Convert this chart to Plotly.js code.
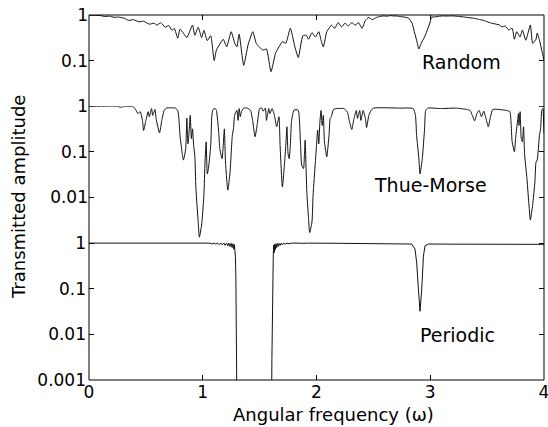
<!DOCTYPE html>
<html>
<head>
<meta charset="utf-8">
<script src="https://cdn.plot.ly/plotly-3.0.1.min.js"></script>
<style>html,body{margin:0;padding:0;background:#fff;}#chart{width:548px;height:427px;}</style>
</head>
<body>
<div id="chart"></div>
<script>
// ---- data ----
const xTickVals = [0, 1, 2, 3, 4];
const xTickText = ['0', '1', '2', '3', '4'];

const randomX = [0.00,0.05,0.10,0.14,0.18,0.22,0.26,0.31,0.35,0.39,0.44,0.48,0.53,0.57,0.60,0.63,0.67,0.70,0.73,0.75,0.78,0.80,0.83,0.86,0.91,0.93,0.96,0.99,1.01,1.04,1.07,1.10,1.12,1.15,1.18,1.21,1.25,1.28,1.30,1.32,1.36,1.40,1.44,1.47,1.50,1.53,1.56,1.60,1.64,1.67,1.70,1.73,1.77,1.81,1.84,1.88,1.91,1.93,1.96,1.99,2.02,2.04,2.06,2.09,2.11,2.13,2.16,2.19,2.22,2.25,2.28,2.31,2.34,2.37,2.40,2.43,2.46,2.49,2.53,2.56,2.59,2.62,2.65,2.68,2.70,2.73,2.76,2.81,2.84,2.86,2.88,2.90,2.92,2.95,2.98,3.00,3.01,3.04,3.08,3.11,3.15,3.20,3.25,3.29,3.33,3.38,3.41,3.44,3.47,3.50,3.54,3.58,3.61,3.63,3.66,3.69,3.72,3.74,3.76,3.79,3.81,3.84,3.88,3.90,3.93,3.94,3.96,3.98,4.00];
const randomY = [0.99,0.98,0.97,0.93,0.94,0.89,0.90,0.85,0.76,0.79,0.71,0.73,0.63,0.66,0.60,0.68,0.54,0.59,0.46,0.51,0.31,0.49,0.40,0.32,0.60,0.36,0.54,0.32,0.46,0.275,0.35,0.10,0.17,0.23,0.295,0.20,0.43,0.245,0.20,0.38,0.079,0.23,0.43,0.24,0.195,0.17,0.18,0.0575,0.145,0.20,0.26,0.24,0.51,0.20,0.117,0.35,0.36,0.295,0.41,0.33,0.43,0.28,0.20,0.43,0.51,0.60,0.51,0.68,0.55,0.66,0.575,0.68,0.60,0.68,0.51,0.76,0.89,0.79,0.89,0.93,0.955,0.94,0.97,0.95,0.955,0.93,0.91,0.85,0.66,0.43,0.28,0.18,0.24,0.33,0.51,0.71,0.89,0.91,0.94,0.955,0.95,0.955,0.93,0.91,0.88,0.85,0.82,0.79,0.76,0.71,0.66,0.63,0.60,0.55,0.575,0.47,0.51,0.295,0.43,0.33,0.47,0.28,0.60,0.24,0.295,0.40,0.28,0.17,0.102];

const thueX = [0.00,0.10,0.20,0.25,0.28,0.31,0.39,0.41,0.43,0.45,0.47,0.48,0.50,0.52,0.53,0.55,0.56,0.58,0.59,0.62,0.64,0.66,0.68,0.76,0.78,0.79,0.80,0.82,0.83,0.85,0.86,0.87,0.88,0.89,0.90,0.91,0.92,0.93,0.94,0.96,0.97,0.99,1.01,1.02,1.03,1.04,1.05,1.07,1.08,1.09,1.11,1.12,1.14,1.15,1.17,1.18,1.19,1.20,1.22,1.24,1.26,1.27,1.28,1.30,1.31,1.32,1.33,1.34,1.36,1.39,1.42,1.44,1.46,1.48,1.50,1.52,1.53,1.55,1.56,1.58,1.59,1.61,1.63,1.65,1.67,1.68,1.70,1.72,1.73,1.74,1.75,1.76,1.77,1.78,1.80,1.82,1.84,1.86,1.87,1.886,1.895,1.90,1.915,1.93,1.94,1.96,1.97,1.99,2.00,2.01,2.02,2.03,2.04,2.05,2.06,2.07,2.09,2.11,2.12,2.13,2.15,2.18,2.24,2.27,2.29,2.31,2.33,2.35,2.36,2.38,2.39,2.41,2.43,2.44,2.46,2.48,2.50,2.73,2.85,2.87,2.88,2.90,2.91,2.93,2.95,2.96,2.98,3.09,3.23,3.32,3.35,3.37,3.39,3.41,3.43,3.45,3.47,3.49,3.51,3.53,3.55,3.67,3.70,3.71,3.72,3.74,3.75,3.77,3.775,3.78,3.79,3.80,3.81,3.82,3.83,3.85,3.87,3.88,3.90,3.92,3.93,3.94,3.96,3.97,3.98,3.99,4.00];
const thueY = [1.0,0.99,1.0,0.99,0.95,0.99,0.97,0.85,0.69,0.76,0.49,0.295,0.49,0.76,0.59,0.89,0.63,0.85,0.54,0.26,0.49,0.81,0.91,0.91,0.81,0.54,0.23,0.091,0.066,0.117,0.55,0.15,0.275,0.63,0.195,0.32,0.138,0.085,0.0155,0.0029,0.00135,0.0025,0.0112,0.060,0.166,0.033,0.043,0.138,0.63,0.85,0.89,0.81,0.275,0.117,0.071,0.138,0.32,0.060,0.0145,0.036,0.23,0.32,0.63,0.81,0.49,0.89,0.59,0.76,0.91,0.91,0.81,0.46,0.215,0.42,0.89,0.91,0.78,0.91,0.49,0.89,0.69,0.89,0.63,0.355,0.59,0.138,0.017,0.060,0.138,0.355,0.091,0.071,0.138,0.46,0.81,0.85,0.81,0.138,0.051,0.043,0.10,0.18,0.013,0.0035,0.0017,0.0029,0.0112,0.060,0.138,0.30,0.15,0.46,0.81,0.38,0.63,0.166,0.078,0.23,0.54,0.59,0.85,0.89,0.89,0.76,0.46,0.31,0.54,0.81,0.54,0.81,0.49,0.81,0.54,0.34,0.63,0.81,0.91,0.91,0.89,0.63,0.23,0.071,0.033,0.071,0.32,0.81,0.91,0.89,0.91,0.85,0.81,0.63,0.48,0.69,0.81,0.59,0.78,0.54,0.355,0.59,0.85,0.81,0.76,0.46,0.166,0.10,0.195,0.54,0.69,0.38,0.76,0.195,0.166,0.355,0.085,0.026,0.0058,0.0032,0.0068,0.022,0.060,0.066,0.23,0.32,0.80,0.89,0.25];

const periodicX = [0.00,0.40,0.80,0.85,0.87,0.90,0.92,0.95,0.97,1.00,1.02,1.04,1.06,1.08,1.10,1.115,1.13,1.145,1.16,1.17,1.185,1.195,1.21,1.22,1.23,1.24,1.25,1.258,1.265,1.272,1.278,1.283,1.287,1.291,1.295,1.298,1.300,1.450,1.605,1.608,1.611,1.614,1.616,1.620,1.624,1.628,1.633,1.638,1.644,1.650,1.657,1.664,1.672,1.680,1.690,1.700,1.710,1.725,1.740,1.760,1.780,1.810,1.840,1.880,1.920,2.20,2.50,2.80,2.837,2.866,2.881,2.896,2.910,2.925,2.940,2.954,2.984,3.20,3.50,3.80,4.00];
const periodicY = [1.0,1.0,1.0,0.995,1.0,0.99,1.0,0.985,1.0,0.98,1.0,0.97,1.0,0.96,1.0,0.95,1.0,0.93,1.0,0.92,1.0,0.90,1.0,0.87,1.0,0.84,0.99,0.80,0.97,0.74,0.93,0.66,0.5,0.2,0.03,0.003,0.0003,0.00000001,0.0003,0.003,0.03,0.16,0.3,0.55,0.9,0.62,0.95,0.72,0.97,0.8,0.98,0.85,0.99,0.89,1.0,0.92,1.0,0.95,1.0,0.97,1.0,0.985,1.0,0.99,1.0,0.99,0.99,0.98,0.955,0.74,0.37,0.098,0.032,0.098,0.52,0.87,0.955,0.95,0.95,0.94,0.94];

const panelLabels = ['Random', 'Thue-Morse', 'Periodic'];
const yTitle = 'Transmitted amplitude';
const xTitle = 'Angular frequency (\u03c9)';

// ---- layout helpers ----
const FONT = 'DejaVu Sans, Liberation Sans, Arial, sans-serif';
const L = 89, R = 4, T = 15, B = 47, W = 548, H = 427;
const pw = W - L - R, ph = H - T - B;
const px2x = p => (p - L) / pw;
const py2y = p => (H - B - p) / ph;
const pad = 0.05; // decades of headroom so curves sitting at 1 are not clipped
const dec = 1 / 8;

const lineStyle = {color: '#111', width: 1};
const smoothStyle = {color: '#111', width: 1, shape: 'spline', smoothing: 0.5};
const traces = [
  {x: randomX, y: randomY, xaxis: 'x2', yaxis: 'y', mode: 'lines', line: smoothStyle, hoverinfo: 'skip'},
  {x: thueX, y: thueY, xaxis: 'x', yaxis: 'y2', mode: 'lines', line: smoothStyle, hoverinfo: 'skip'},
  {x: periodicX, y: periodicY, xaxis: 'x', yaxis: 'y3', mode: 'lines', line: lineStyle, hoverinfo: 'skip'}
];

const tickFont = {family: FONT, size: 17, color: '#000'};
const yBase = {
  type: 'log', ticks: 'inside', ticklen: 5, tickcolor: '#000', tickwidth: 1,
  mirror: 'ticks', showgrid: false, zeroline: false, showline: false,
  tickfont: tickFont, fixedrange: true
};

const layout = {
  width: W, height: H,
  margin: {l: L, r: R, t: T, b: B, pad: 0},
  paper_bgcolor: '#fff', plot_bgcolor: '#fff',
  showlegend: false,
  font: {family: FONT, color: '#000'},
  xaxis: {
    domain: [0, 1], anchor: 'y3', range: [0, 4],
    tickvals: xTickVals, ticktext: xTickText,
    ticks: 'inside', ticklen: 5, tickcolor: '#000',
    showgrid: false, zeroline: false, showline: false,
    tickfont: tickFont, ticklabeloverflow: 'allow', fixedrange: true
  },
  xaxis2: {
    domain: [0, 1], anchor: 'y', side: 'top', matches: 'x', range: [0, 4],
    tickvals: xTickVals, ticks: 'inside', ticklen: 5, tickcolor: '#000',
    showticklabels: false, showgrid: false, zeroline: false, showline: false, fixedrange: true
  },
  yaxis: Object.assign({}, yBase, {
    domain: [6 * dec, 1], anchor: 'x2', range: [-2, 0],
    tickvals: [1, 0.1], ticktext: ['1', '0.1']
  }),
  yaxis2: Object.assign({}, yBase, {
    domain: [3 * dec, 6 * dec + pad * dec], anchor: 'x', range: [-3, pad],
    tickvals: [1, 0.1, 0.01], ticktext: ['1', '0.1', '0.01']
  }),
  yaxis3: Object.assign({}, yBase, {
    domain: [0, 3 * dec + pad * dec], anchor: 'x', range: [-3, pad],
    tickvals: [1, 0.1, 0.01, 0.001], ticktext: ['1', '0.1', '0.01', '0.001'],
    ticklabelstandoff: 2
  }),
  shapes: [{
    type: 'rect', xref: 'paper', yref: 'paper', x0: 0, x1: 1, y0: 0, y1: 1,
    line: {color: '#000', width: 1}, fillcolor: 'rgba(0,0,0,0)'
  }],
  annotations: [
    {text: panelLabels[0], xref: 'paper', yref: 'paper', x: px2x(461), y: py2y(62), showarrow: false, xanchor: 'center', yanchor: 'middle', font: {family: FONT, size: 19, color: '#000'}},
    {text: panelLabels[1], xref: 'paper', yref: 'paper', x: px2x(430), y: py2y(185), showarrow: false, xanchor: 'center', yanchor: 'middle', font: {family: FONT, size: 19, color: '#000'}},
    {text: panelLabels[2], xref: 'paper', yref: 'paper', x: px2x(457), y: py2y(335), showarrow: false, xanchor: 'center', yanchor: 'middle', font: {family: FONT, size: 19, color: '#000'}},
    {text: xTitle, xref: 'paper', yref: 'paper', x: px2x(333), y: py2y(414), showarrow: false, xanchor: 'center', yanchor: 'middle', font: {family: FONT, size: 18, color: '#000'}},
    {text: yTitle, xref: 'paper', yref: 'paper', x: px2x(19), y: py2y(197), showarrow: false, xanchor: 'center', yanchor: 'middle', textangle: -90, font: {family: FONT, size: 18, color: '#000'}}
  ]
};

Plotly.newPlot('chart', traces, layout, {staticPlot: true, displayModeBar: false});
</script>
</body>
</html>
